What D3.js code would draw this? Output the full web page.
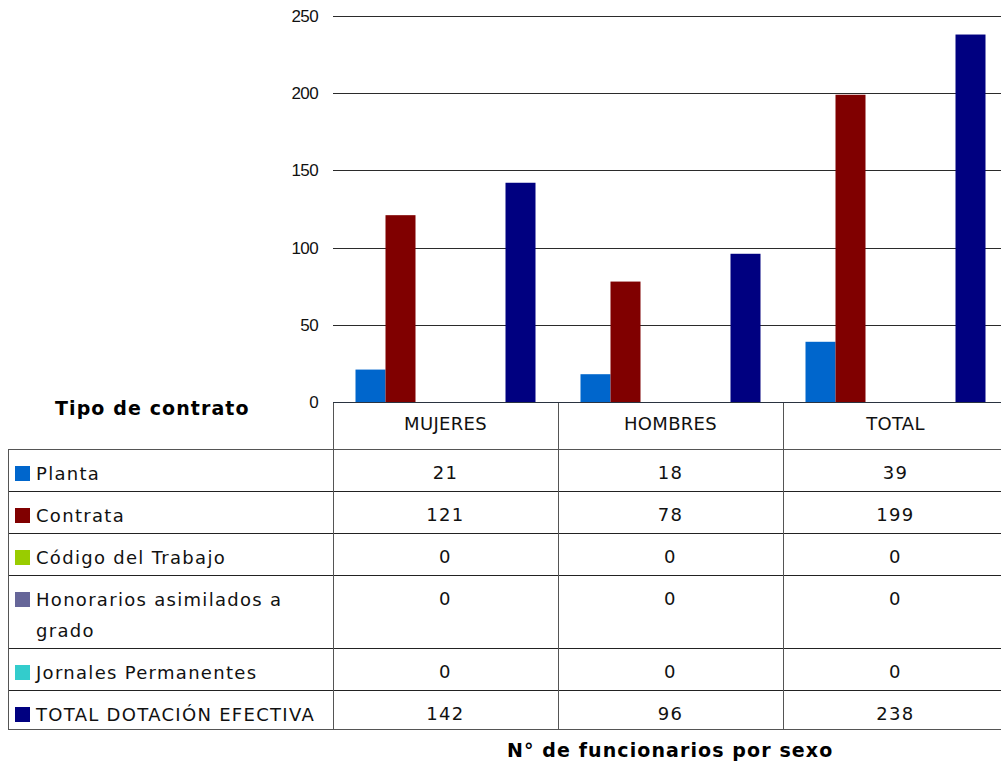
<!DOCTYPE html>
<html>
<head>
<meta charset="utf-8">
<script src="https://cdn.jsdelivr.net/npm/d3@7"></script>
<style>
  html, body { margin: 0; padding: 0; background: #fff; }
  svg { display: block; }
</style>
</head>
<body>
<svg id="chart" width="1001" height="763"></svg>
<script>
// Categories (columns) and contract types (series)
const categories = ["MUJERES", "HOMBRES", "TOTAL"];
const seriesNames = [
  "Planta",
  "Contrata",
  "Código del Trabajo",
  "Honorarios asimilados a grado",
  "Jornales Permanentes",
  "TOTAL DOTACIÓN EFECTIVA"
];
const planta = [21, 18, 39];
const contrata = [121, 78, 199];
const codigoTrabajo = [0, 0, 0];
const honorarios = [0, 0, 0];
const jornales = [0, 0, 0];
const totalDotacion = [142, 96, 238];
const seriesColors = ["#0066cc", "#800000", "#99cc00", "#666699", "#33cccc", "#000080"];
const yTicks = [0, 50, 100, 150, 200, 250];
const tableTitle = "Tipo de contrato";
const xTitle = "N° de funcionarios por sexo";

const seriesValues = [planta, contrata, codigoTrabajo, honorarios, jornales, totalDotacion];
const series = seriesNames.map((name, i) => ({ name, color: seriesColors[i], values: seriesValues[i] }));

const svg = d3.select("#chart");
const plotLeft = 333, plotRight = 1008, plotTop = 16, plotBottom = 402;
const tableLeft = 8;
const headerBottom = 449;

const x0 = d3.scaleBand().domain(categories).range([plotLeft, plotRight]).paddingInner(0).paddingOuter(0);
const x1 = d3.scaleBand().domain(seriesNames).range([0, x0.bandwidth()]).paddingInner(0).paddingOuter(0.75);
const y = d3.scaleLinear().domain([0, 250]).range([plotBottom, plotTop]);

// Horizontal gridlines and value labels
const yAxis = d3.axisLeft(y).tickValues(yTicks).tickSize(0).tickPadding(15);
const gy = svg.append("g").attr("transform", `translate(${plotLeft},0)`).call(yAxis);
gy.select(".domain").remove();
gy.selectAll("text")
  .attr("font-family", "'Liberation Sans', Arial, sans-serif")
  .attr("font-size", 17)
  .attr("letter-spacing", "-0.6px")
  .attr("fill", "#111");

svg.append("g").selectAll("line")
  .data(yTicks.filter(d => d > 0))
  .join("line")
  .attr("x1", plotLeft).attr("x2", plotRight)
  .attr("y1", d => Math.round(y(d)) + 0.5).attr("y2", d => Math.round(y(d)) + 0.5)
  .attr("stroke", "#2b2b2b").attr("stroke-width", 1);

// Bars
svg.append("g").selectAll("g")
  .data(series)
  .join("g")
  .attr("fill", d => d.color)
  .selectAll("rect")
  .data(s => s.values.map((v, i) => ({ s: s.name, cat: categories[i], v })))
  .join("rect")
  .attr("x", d => x0(d.cat) + x1(d.s))
  .attr("width", x1.bandwidth())
  .attr("y", d => y(d.v))
  .attr("height", d => y(0) - y(d.v));

// Data table
const lineH = 31, rowPad = 11, labelX = 36, labelMax = 292;
const bodyFont = { family: "'DejaVu Sans', Verdana, sans-serif", size: 18, spacing: "1.3px" };
const table = svg.append("g");

// Word-wrap a row label into lines that fit the label column
function wrapLabel(text) {
  const probe = svg.append("text")
    .attr("font-family", bodyFont.family).attr("font-size", bodyFont.size)
    .attr("letter-spacing", bodyFont.spacing);
  const words = text.split(" ");
  const lines = [];
  let cur = "";
  words.forEach(w => {
    const trial = cur ? cur + " " + w : w;
    probe.text(trial);
    if (cur && probe.node().getComputedTextLength() > labelMax) {
      lines.push(cur);
      cur = w;
    } else {
      cur = trial;
    }
  });
  if (cur) lines.push(cur);
  probe.remove();
  return lines;
}

let rowTop = headerBottom;
const rows = series.map((s, idx) => {
  const lines = wrapLabel(s.name);
  // the closing row sits on the table's bottom border and is a little shorter
  const h = rowPad + lineH * lines.length - (idx === series.length - 1 ? 3 : 0);
  const r = { ...s, lines, top: rowTop, h };
  rowTop += h;
  return r;
});
const tableBottom = rowTop;

// Header cells
table.selectAll("text.cat")
  .data(categories)
  .join("text")
  .attr("class", "cat")
  .attr("x", d => x0(d) + x0.bandwidth() / 2)
  .attr("y", 430)
  .attr("text-anchor", "middle")
  .attr("font-family", bodyFont.family)
  .attr("font-size", 18)
  .attr("letter-spacing", "0.3px")
  .attr("fill", "#111")
  .text(d => d);

// Row labels, legend keys and values
const rowG = table.selectAll("g.row").data(rows).join("g").attr("class", "row");
rowG.append("rect")
  .attr("x", 15).attr("width", 15).attr("height", 15)
  .attr("y", d => d.top + 31 - 14)
  .attr("fill", d => d.color);
rowG.each(function (d) {
  const t = d3.select(this).append("text")
    .attr("font-family", bodyFont.family).attr("font-size", bodyFont.size)
    .attr("letter-spacing", bodyFont.spacing).attr("fill", "#111");
  d.lines.forEach((ln, i) => {
    t.append("tspan").attr("x", labelX).attr("y", d.top + 31 + i * lineH).text(ln);
  });
});
rowG.selectAll("text.val")
  .data(d => d.values.map((v, i) => ({ v, cat: categories[i], top: d.top })))
  .join("text")
  .attr("class", "val")
  .attr("x", d => x0(d.cat) + x0.bandwidth() / 2)
  .attr("y", d => d.top + 30)
  .attr("text-anchor", "middle")
  .attr("font-family", bodyFont.family).attr("font-size", bodyFont.size)
  .attr("letter-spacing", bodyFont.spacing).attr("fill", "#111")
  .text(d => d.v);

// Table grid lines
const hLines = rows.map(r => r.top).concat([tableBottom]);
table.selectAll("line.h")
  .data(hLines)
  .join("line")
  .attr("class", "h")
  .attr("x1", tableLeft).attr("x2", plotRight)
  .attr("y1", d => Math.round(d) + 0.5).attr("y2", d => Math.round(d) + 0.5)
  .attr("stroke", (d, i) => (i === 0 || i === hLines.length - 1) ? "#555" : "#222")
  .attr("stroke-width", 1);
table.append("line")
  .attr("x1", tableLeft + 0.5).attr("x2", tableLeft + 0.5)
  .attr("y1", headerBottom).attr("y2", tableBottom + 0.5)
  .attr("stroke", "#555");
const vCols = categories.map(c => x0(c)).concat([plotRight]);
table.selectAll("line.v")
  .data(vCols)
  .join("line")
  .attr("class", "v")
  .attr("x1", d => d + 0.5).attr("x2", d => d + 0.5)
  .attr("y1", plotBottom).attr("y2", tableBottom + 0.5)
  .attr("stroke", "#555");

// Zero baseline
svg.append("line")
  .attr("x1", plotLeft).attr("x2", plotRight)
  .attr("y1", y(0) + 0.5).attr("y2", y(0) + 0.5)
  .attr("stroke", "#2a3340");

// Titles
svg.append("text")
  .attr("x", 55).attr("y", 415)
  .attr("font-family", bodyFont.family).attr("font-weight", "bold")
  .attr("font-size", 19).attr("letter-spacing", "1.1px").attr("fill", "#000")
  .text(tableTitle);
svg.append("text")
  .attr("x", 507).attr("y", 757)
  .attr("font-family", bodyFont.family).attr("font-weight", "bold")
  .attr("font-size", 19).attr("letter-spacing", "1.1px").attr("fill", "#000")
  .text(xTitle);
</script>
</body>
</html>
